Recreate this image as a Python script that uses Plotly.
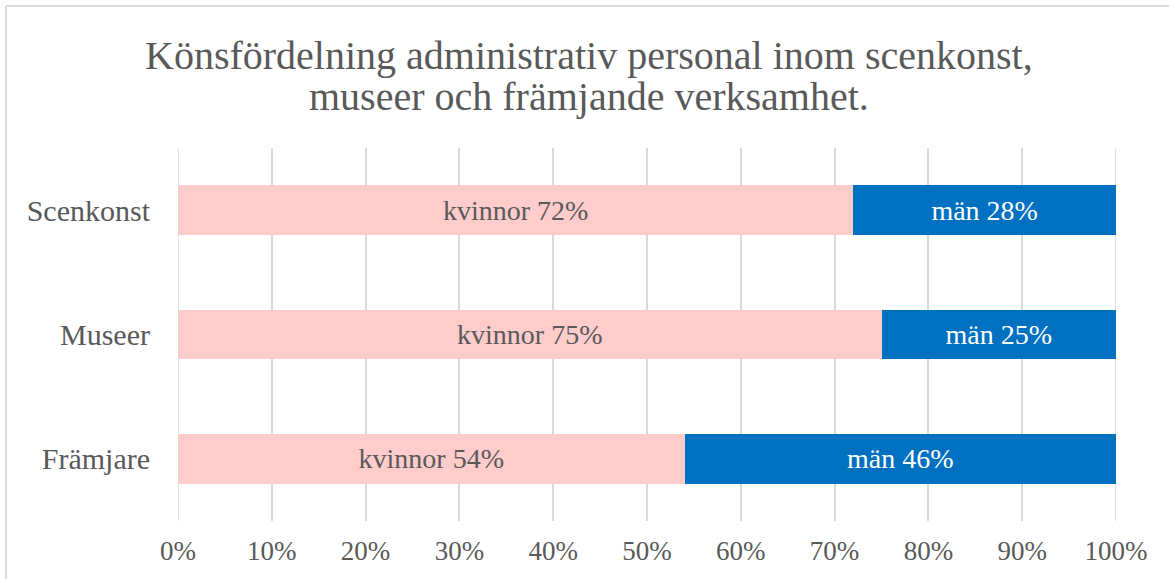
import plotly.graph_objects as go

# data
kategorier = ["Scenkonst", "Museer", "Främjare"]
kvinnor = [72, 75, 54]
man = [28, 25, 46]
x_ticks = [0, 10, 20, 30, 40, 50, 60, 70, 80, 90, 100]
titel_rader = ["Könsfördelning administrativ personal inom scenkonst,",
               "museer och främjande verksamhet."]

FONT = "Liberation Serif"
GRAY = "#595959"
GRID = "#D9D9D9"

fig = go.Figure()
fig.add_trace(go.Bar(
    y=kategorier, x=kvinnor, orientation="h", name="kvinnor",
    marker=dict(color="#FFCCCC", line=dict(width=0)),
    text=[f"kvinnor {v}%" for v in kvinnor],
    textposition="inside", insidetextanchor="middle",
    textfont=dict(family=FONT, size=28, color=GRAY),
))
fig.add_trace(go.Bar(
    y=kategorier, x=man, orientation="h", name="män",
    marker=dict(color="#0070C0", line=dict(width=0)),
    text=[f"män {v}%" for v in man],
    textposition="inside", insidetextanchor="middle",
    textfont=dict(family=FONT, size=28, color="white"),
))

W, H = 1169, 579
L, R, T, B = 178, 53, 148, 58
pw, ph = W - L - R, H - T - B

fig.update_layout(
    width=W, height=H,
    barmode="stack", bargap=0.6,
    showlegend=False,
    plot_bgcolor="white", paper_bgcolor="white",
    margin=dict(l=L, r=R, t=T, b=B, autoexpand=False),
    xaxis=dict(
        range=[0, 100], tickvals=x_ticks,
        ticktext=[f"{v}%" for v in x_ticks],
        showgrid=True, gridcolor=GRID, gridwidth=1.5,
        zeroline=False, showline=False,
        ticks="outside", ticklen=6, tickcolor="rgba(0,0,0,0)",
        tickfont=dict(family=FONT, size=27, color=GRAY),
        fixedrange=True,
    ),
    yaxis=dict(
        categoryorder="array", categoryarray=kategorier[::-1],
        range=[-0.5, 2.5],
        showgrid=False, zeroline=False, showline=False,
        ticks="outside", ticklen=21, tickcolor="rgba(0,0,0,0)",
        tickfont=dict(family=FONT, size=30, color=GRAY),
        fixedrange=True,
    ),
    uniformtext=dict(mode=False),
)

# stodlinjer vid 0% och 100% (plotly ritar inte dem i kanten)
for xv in [x_ticks[0], x_ticks[-1]]:
    fig.add_shape(type="line", xref="x", yref="paper", x0=xv, x1=xv, y0=0, y1=1,
                  layer="below", line=dict(color=GRID, width=1.5))

# titel som tva rader (tatare radavstand an plotlys standard)
for rad, ypix in zip(titel_rader, [55, 97]):
    fig.add_annotation(
        text=rad, showarrow=False, xref="paper", yref="paper",
        x=(589 - L) / pw, y=1 + (T - ypix) / ph,
        xanchor="center", yanchor="middle",
        font=dict(family=FONT, size=40, color=GRAY),
    )

# ram runt diagrammet (vanster och topp)
x0 = (6 - L) / pw
y_top = 1 + (T - 6) / ph
fig.add_shape(type="line", xref="paper", yref="paper", x0=x0, x1=x0,
              y0=-(B + 10) / ph, y1=y_top, line=dict(color=GRID, width=2))
fig.add_shape(type="line", xref="paper", yref="paper", x0=x0, x1=1 + (R + 10) / pw,
              y0=y_top, y1=y_top, line=dict(color=GRID, width=2))

fig.write_html("out.html", config={"displayModeBar": False},
               post_script="document.body.style.margin='0px';")
